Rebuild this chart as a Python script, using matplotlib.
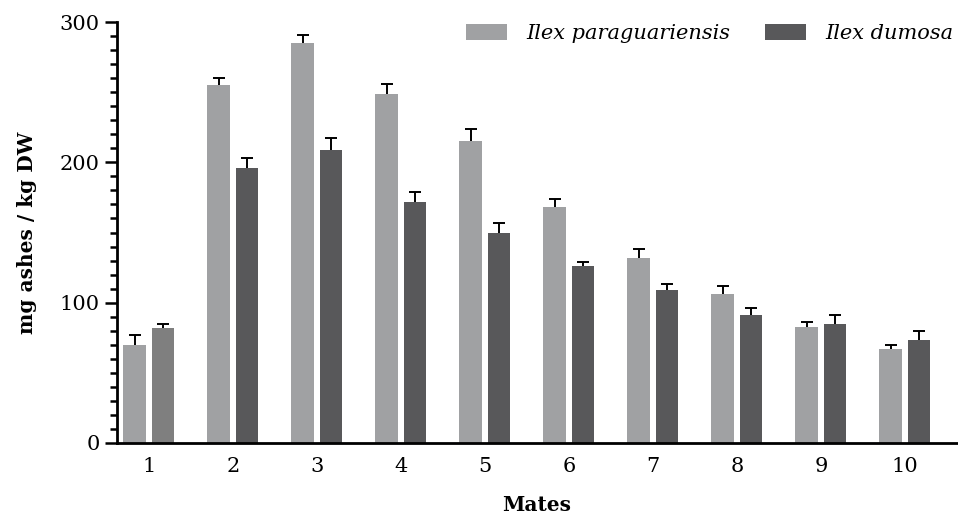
# Grouped bars: ash content of mate samples for two Ilex species
import numpy as np
import matplotlib as mpl
import matplotlib.pyplot as plt

mpl.rcParams['font.family'] = 'serif'
mpl.rcParams['font.serif'] = ['DejaVu Serif']

LIGHT = '#a0a1a3'
DARK = '#58585a'
FIRST_DARK = '#7f7f7f'  # first sample of I. dumosa is drawn lighter

mates = ['1', '2', '3', '4', '5', '6', '7', '8', '9', '10']
parag_mean = [70, 255, 285, 249, 215, 168, 132, 106, 83, 67]
parag_err = [7, 5, 6, 7, 9, 6, 6, 6, 3, 2.5]
dumosa_mean = [82, 196, 209, 172, 150, 126, 109, 91, 85, 73.5]
dumosa_err = [2.5, 7, 8, 7, 7, 3, 4, 5, 6, 6]

fig = plt.figure(figsize=(9.58, 5.16), dpi=100)
ax = fig.add_axes([117/958, 73/516, 840/958, 421/516])

x = np.arange(1, len(mates) + 1)
BAR_W = 0.27
OFF = 0.168

ax.bar(x - OFF, parag_mean, BAR_W, color=LIGHT, label='Ilex paraguariensis', zorder=2)
dcolors = [FIRST_DARK] + [DARK] * (len(x) - 1)
ax.bar(x + OFF, dumosa_mean, BAR_W, color=dcolors, zorder=2)
# legend handle for the dark series
ax.bar([0], [0], color=DARK, label='Ilex dumosa')

# upper-only error bars
for xs, m, e in [(x - OFF, parag_mean, parag_err), (x + OFF, dumosa_mean, dumosa_err)]:
    eb = ax.errorbar(xs, m, yerr=[np.zeros(len(xs)), e], fmt='none', ecolor='black',
                     elinewidth=1.4, capsize=4.5, capthick=1.4, zorder=1)
    eb[1][0].set_visible(False)

ax.set_xlim(0.62, 10.62)
ax.set_ylim(0, 300)
ax.set_xticks(x)
ax.set_xticklabels(mates)
ax.set_yticks([0, 100, 200, 300])
ax.set_yticks(np.arange(0, 301, 10), minor=True)

for s in ['top', 'right']:
    ax.spines[s].set_visible(False)
ax.spines['left'].set_linewidth(2)
ax.spines['bottom'].set_linewidth(2)
ax.tick_params(axis='x', length=0, labelsize=15, pad=10)
ax.tick_params(axis='y', which='major', length=9, width=1.8, labelsize=15)
ax.tick_params(axis='y', which='minor', length=5, width=1.8)

ax.set_xlabel('Mates', fontsize=14.5, fontweight='bold', labelpad=14)
ax.set_ylabel('mg ashes / kg DW', fontsize=14.5, fontweight='bold', labelpad=16)

leg = ax.legend(loc='upper right', bbox_to_anchor=(1.018, 1.04), ncol=2,
                frameon=False, handlelength=1.97, handleheight=0.82,
                handletextpad=0.9, columnspacing=1.7,
                prop={'style': 'italic', 'size': 15})

fig.savefig('out.png', dpi=100)
